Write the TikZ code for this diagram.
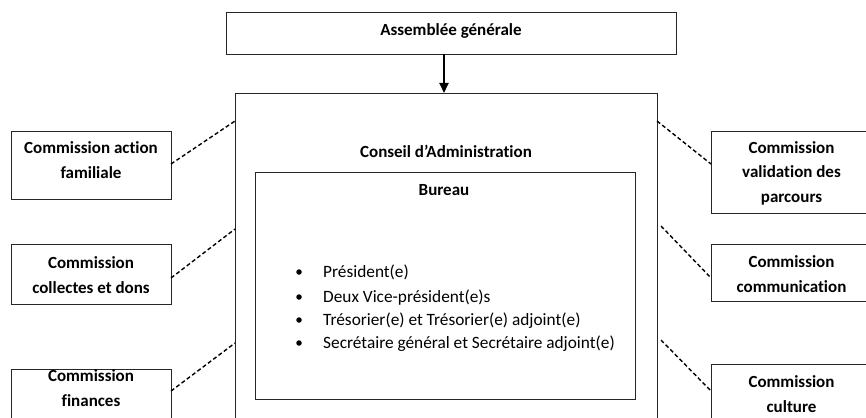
\documentclass[tikz,border=0pt]{standalone}
\usepackage{fontspec}
\setmainfont{Carlito}[Ligatures=NoCommon]
\usetikzlibrary{arrows.meta}
\begin{document}
\begin{tikzpicture}[x=1pt,y=-1pt,
  frame/.style={draw=black!85, line width=0.9pt, inner sep=0pt, anchor=north west},
  lab/.style={font=\fontsize{17}{24.5}\selectfont\bfseries, align=center, inner sep=0pt, anchor=base},
  item/.style={font=\fontsize{17.3}{24.5}\selectfont, inner sep=0pt, anchor=base west},
  dot/.style={circle, fill=black, inner sep=0pt, minimum size=5.5pt},
  link/.style={line width=1.4pt, dash pattern=on 4pt off 2.6pt},
  flow/.style={line width=1.8pt, -{Triangle[length=10pt,width=9pt]}}]
\useasboundingbox (0,0) rectangle (866,417);
\clip (0,0) rectangle (866,417);
\fill[white] (0,0) rectangle (866,417);
% main boxes
\node[frame, minimum width=450pt, minimum height=42pt] (ag) at (226,12) {};
\node[frame, minimum width=422pt, minimum height=400pt] (ca) at (235,93) {};
\node[frame, minimum width=380pt, minimum height=227pt] (bu) at (255,172) {};
\node[lab] (agt) at (451,36) {Assemblée générale};
\node[lab] (cat) at (446,157) {Conseil d’Administration};
\node[lab] (but) at (444,195) {Bureau};
% bureau members
\node[dot] (d1) at (299,272) {};
\node[dot] (d2) at (299,297) {};
\node[dot] (d3) at (299,320) {};
\node[dot] (d4) at (299,343) {};
\node[item] (i1) at (323,277) {Président(e)};
\node[item] (i2) at (323,302) {Deux Vice-président(e)s};
\node[item] (i3) at (323,325) {Trésorier(e) et Trésorier(e) adjoint(e)};
\node[item] (i4) at (323,348) {Secrétaire général et Secrétaire adjoint(e)};
% commissions left
\node[frame, minimum width=160pt, minimum height=68pt] (l1) at (11,131) {};
\node[frame, minimum width=160pt, minimum height=60pt] (l2) at (11,244) {};
\node[frame, minimum width=160pt, minimum height=80pt] (l3) at (11,369) {};
\node[lab] (l1t) at (91,178) {Commission action\\familiale};
\node[lab] (l2t) at (91,293) {Commission\\collectes et dons};
\node[lab] (l3t) at (91,406) {Commission\\finances};
% commissions right
\node[frame, minimum width=161pt, minimum height=82pt] (r1) at (711,131) {};
\node[frame, minimum width=161pt, minimum height=57pt] (r2) at (711,244) {};
\node[frame, minimum width=161pt, minimum height=80pt] (r3) at (711,364) {};
\node[lab] (r1t) at (791.5,202) {Commission\\validation des\\parcours};
\node[lab] (r2t) at (791.5,292) {Commission\\communication};
\node[lab] (r3t) at (791.5,412) {Commission\\culture};
% arrow
\coordinate (a0) at (444,54);
\coordinate (a1) at (444,93);
\draw[flow] (a0) -- (a1);
% dashed links
\coordinate (pl1) at (235,121); \coordinate (ql1) at (171,164);
\coordinate (pl2) at (235,229); \coordinate (ql2) at (171,278);
\coordinate (pl3) at (235,343); \coordinate (ql3) at (171,391);
\coordinate (pr1) at (657,121); \coordinate (qr1) at (711,164);
\coordinate (pr2) at (661,226); \coordinate (qr2) at (711,278);
\coordinate (pr3) at (661,340); \coordinate (qr3) at (711,391);
\draw[link] (ql1) -- (pl1);
\draw[link] (ql2) -- (pl2);
\draw[link] (ql3) -- (pl3);
\draw[link] (pr1) -- (qr1);
\draw[link] (pr2) -- (qr2);
\draw[link] (pr3) -- (qr3);
\end{tikzpicture}
\end{document}
